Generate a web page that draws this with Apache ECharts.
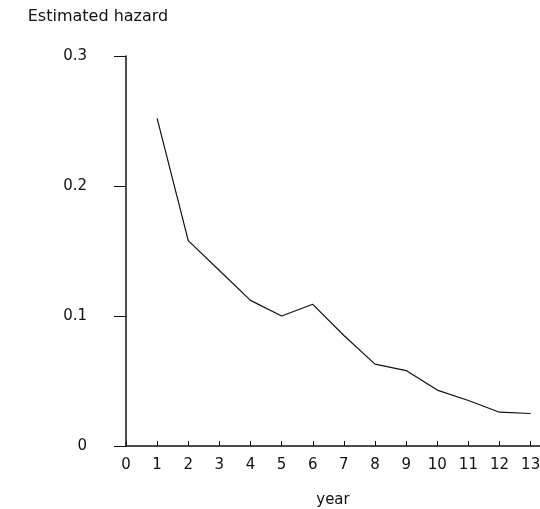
<!DOCTYPE html>
<html>
<head>
<meta charset="utf-8">
<script src="https://cdn.jsdelivr.net/npm/echarts@6/dist/echarts.min.js"></script>
<style>
html,body{margin:0;padding:0;background:#fff;}
#chart{width:540px;height:509px;}
</style>
</head>
<body>
<div id="chart"></div>
<script>
const years = [1, 2, 3, 4, 5, 6, 7, 8, 9, 10, 11, 12, 13];
const hazard = [0.252, 0.158, 0.135, 0.112, 0.100, 0.109, 0.085, 0.063, 0.058, 0.043, 0.035, 0.026, 0.025];
const yTicks = [0, 0.1, 0.2, 0.3];
const xName = 'year';
const yName = 'Estimated hazard';

const font = 'DejaVu Sans';
const fs = 15;
const chart = echarts.init(document.getElementById('chart'));
chart.setOption({
  animation: false,
  backgroundColor: '#fff',
  grid: {left: 126, right: 0, top: 56, bottom: 63, containLabel: false, outerBoundsMode: 'none'},
  xAxis: {
    type: 'value',
    min: 0, max: 13.3, interval: 1,
    name: xName, nameLocation: 'middle', nameGap: 47,
    nameTextStyle: {fontFamily: font, fontSize: fs, color: '#111'},
    axisLine: {lineStyle: {color: '#111', width: 1.5}},
    axisTick: {inside: true, length: 5, lineStyle: {color: '#111', width: 1}},
    axisLabel: {
      fontFamily: font, fontSize: fs, color: '#111', margin: 12,
      showMaxLabel: false, hideOverlap: false,
      formatter: v => Number.isInteger(v) ? String(v) : ''
    },
    splitLine: {show: false}
  },
  yAxis: {
    type: 'value',
    min: 0, max: 0.3, interval: 0.1,
    name: yName, nameLocation: 'end', nameGap: 39,
    nameTextStyle: {fontFamily: font, fontSize: 16, color: '#111', align: 'center', verticalAlign: 'middle', padding: [0, 56, 0, 0]},
    axisLine: {lineStyle: {color: '#111', width: 1.5}},
    axisTick: {inside: false, length: 12, lineStyle: {color: '#111', width: 1}},
    axisLabel: {
      fontFamily: font, fontSize: fs, color: '#111', margin: 39,
      formatter: v => yTicks.indexOf(Math.round(v * 10) / 10) >= 0 ? (v === 0 ? '0' : v.toFixed(1)) : ''
    },
    splitLine: {show: false}
  },
  series: [{
    type: 'line',
    data: years.map((y, i) => [y, hazard[i]]),
    showSymbol: false,
    lineStyle: {color: '#111', width: 1.2},
    silent: true
  }]
});
</script>
</body>
</html>
